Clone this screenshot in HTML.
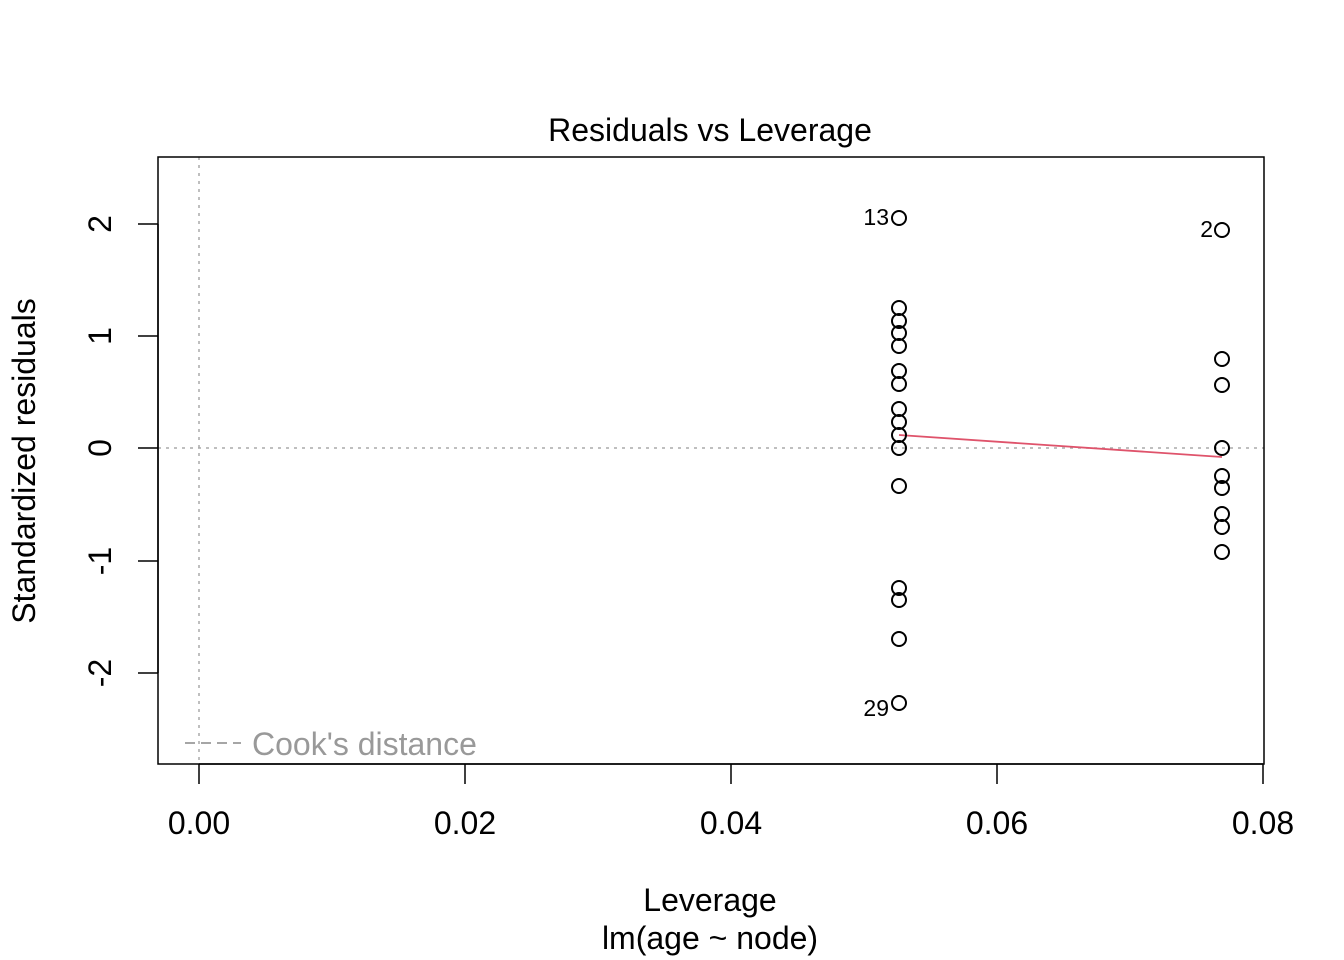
<!DOCTYPE html>
<html><head><meta charset="utf-8"><style>body{margin:0;background:#fff}svg{display:block}</style></head><body>
<svg width="1344" height="960" xmlns="http://www.w3.org/2000/svg" font-family="Liberation Sans, sans-serif">
<rect width="1344" height="960" fill="#fff"/>
<line x1="199" y1="157" x2="199" y2="764" stroke="#aaa" stroke-width="1.5" stroke-dasharray="3,5"/>
<line x1="158" y1="448" x2="1264" y2="448" stroke="#aaa" stroke-width="1.5" stroke-dasharray="3,5"/>
<rect x="158" y="157" width="1106" height="607" fill="none" stroke="#000" stroke-width="1.5"/>
<g stroke="#000" stroke-width="1.5">
<line x1="199" y1="764" x2="1263" y2="764"/>
<line x1="199" y1="764" x2="199" y2="784"/><line x1="465" y1="764" x2="465" y2="784"/><line x1="731" y1="764" x2="731" y2="784"/><line x1="997" y1="764" x2="997" y2="784"/><line x1="1263" y1="764" x2="1263" y2="784"/>
<line x1="158" y1="224" x2="158" y2="673"/>
<line x1="138" y1="224" x2="158" y2="224"/><line x1="138" y1="336" x2="158" y2="336"/><line x1="138" y1="448" x2="158" y2="448"/><line x1="138" y1="561" x2="158" y2="561"/><line x1="138" y1="673" x2="158" y2="673"/>
</g>
<g font-size="32" text-anchor="middle">
<text x="199" y="834">0.00</text><text x="465" y="834">0.02</text><text x="731" y="834">0.04</text><text x="997" y="834">0.06</text><text x="1263" y="834">0.08</text>
<text x="710" y="911">Leverage</text><text x="710" y="949">lm(age ~ node)</text>
<text x="710" y="141">Residuals vs Leverage</text>
</g>
<g font-size="32" text-anchor="middle">
<text transform="translate(111,224) rotate(-90)">2</text>
<text transform="translate(111,336) rotate(-90)">1</text>
<text transform="translate(111,448) rotate(-90)">0</text>
<text transform="translate(111,561) rotate(-90)">-1</text>
<text transform="translate(111,673) rotate(-90)">-2</text>
<text transform="translate(35,461) rotate(-90)">Standardized residuals</text>
</g>
<line x1="899" y1="435" x2="1222" y2="457" stroke="#DF536B" stroke-width="1.8"/>
<g fill="none" stroke="#000" stroke-width="2">
<circle cx="899" cy="218" r="7"/><circle cx="899" cy="308" r="7"/><circle cx="899" cy="321" r="7"/><circle cx="899" cy="333" r="7"/><circle cx="899" cy="346" r="7"/><circle cx="899" cy="371" r="7"/><circle cx="899" cy="384" r="7"/><circle cx="899" cy="409" r="7"/><circle cx="899" cy="422" r="7"/><circle cx="899" cy="435" r="7"/><circle cx="899" cy="448" r="7"/><circle cx="899" cy="486" r="7"/><circle cx="899" cy="588" r="7"/><circle cx="899" cy="600" r="7"/><circle cx="899" cy="639" r="7"/><circle cx="899" cy="703" r="7"/>
<circle cx="1222" cy="230" r="7"/><circle cx="1222" cy="359" r="7"/><circle cx="1222" cy="385" r="7"/><circle cx="1222" cy="448" r="7"/><circle cx="1222" cy="476" r="7"/><circle cx="1222" cy="488" r="7"/><circle cx="1222" cy="514" r="7"/><circle cx="1222" cy="527" r="7"/><circle cx="1222" cy="552" r="7"/>
</g>
<g font-size="23" text-anchor="end">
<text x="889" y="225">13</text><text x="1213" y="237">2</text><text x="889" y="716">29</text>
</g>
<line x1="185" y1="743" x2="241" y2="743" stroke="#999" stroke-width="1.8" stroke-dasharray="10,6"/>
<text x="252" y="755" font-size="32" fill="#999">Cook's distance</text>
</svg>
</body></html>
